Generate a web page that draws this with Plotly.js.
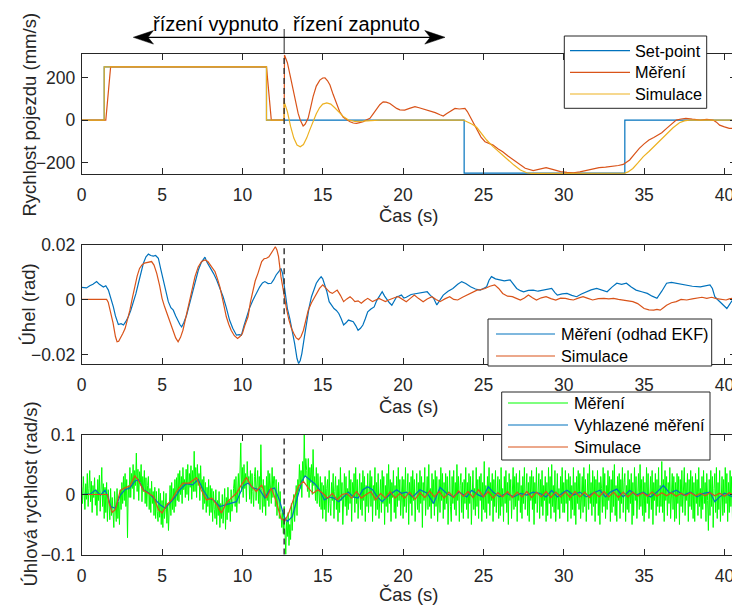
<!DOCTYPE html>
<html><head><meta charset="utf-8">
<script src="https://cdn.plot.ly/plotly-3.0.1.min.js"></script>
<style>html,body{margin:0;padding:0;overflow:hidden;background:#fff}#chart{width:740px;height:605px}</style>
</head><body><div id="chart"></div>
<script>
// ---------------- DATA ----------------
// Panel 1: Rychlost pojezdu (mm/s)  -- [time s, value]
const velSetpoint = [[0,0],[1.4,0],[1.4,250],[11.5,250],[11.5,0],[23.8,0],[23.8,-250],[33.8,-250],[33.8,0],[41,0]];
const velMeasured = [[0,0],[1.5,0],[1.8,250],[11.5,250],[11.8,0],[12.6,0],[12.62,306],[12.8,270],[13.0,200],[13.15,141],[13.3,85],[13.47,31],[13.6,0],[13.78,-28],[13.9,-20],[14.09,8],[14.25,60],[14.4,110],[14.6,160],[14.82,188],[15.0,198],[15.14,199],[15.3,185],[15.45,165],[15.65,120],[15.86,78],[16.05,40],[16.28,13],[16.5,0],[16.7,-8],[16.9,-14],[17.1,-16],[17.3,-12],[17.52,-8],[17.7,0],[17.94,8],[18.15,30],[18.36,55],[18.55,72],[18.76,86],[18.95,84],[19.18,78],[19.4,65],[19.6,55],[19.8,48],[20.1,47],[20.4,55],[20.74,63],[21.0,58],[21.3,52],[21.67,42],[22.0,35],[22.3,25],[22.5,19],[22.7,30],[22.9,40],[23.23,55],[23.5,52],[23.85,55],[24.0,40],[24.17,16],[24.35,-15],[24.58,-47],[24.85,-80],[25.1,-102],[25.35,-110],[25.6,-118],[25.9,-135],[26.2,-149],[26.55,-170],[26.9,-188],[27.2,-205],[27.6,-227],[28.1,-238],[28.5,-232],[28.9,-224],[29.3,-232],[29.8,-243],[30.2,-246],[30.6,-248],[31.0,-244],[31.4,-238],[31.8,-230],[32.2,-224],[32.6,-222],[33.1,-219],[33.4,-214],[33.7,-209],[34.1,-188],[34.4,-160],[34.7,-133],[35.0,-112],[35.3,-94],[35.6,-82],[35.9,-71],[36.1,-60],[36.4,-39],[36.7,-18],[37.0,0],[37.3,5],[37.6,8],[38.0,4],[38.5,0],[38.9,3],[39.3,0],[39.5,-10],[39.7,-24],[40.0,-32],[40.3,-39],[40.6,-40],[41,-42]];
const velSimulated = [[0,0],[1.4,0],[1.4,250],[11.5,250],[11.5,0],[12.6,0],[12.6,86],[12.8,40],[13.0,-30],[13.2,-85],[13.4,-118],[13.6,-126],[13.8,-115],[14.0,-85],[14.2,-45],[14.4,-5],[14.6,30],[14.8,58],[15.0,75],[15.25,81],[15.5,75],[15.75,58],[16.0,38],[16.3,15],[16.6,0],[17.0,-6],[17.5,-5],[18.0,-1],[18.5,0],[23.75,0],[24.0,-8],[24.3,-20],[24.58,-34],[24.9,-65],[25.2,-94],[25.6,-125],[26.07,-157],[26.5,-187],[26.9,-212],[27.3,-235],[27.7,-248],[28.0,-251],[33.8,-250],[34.0,-244],[34.3,-228],[34.6,-203],[34.95,-172],[35.3,-148],[35.6,-125],[36.0,-93],[36.4,-63],[36.8,-36],[37.2,-13],[37.5,-4],[37.8,0],[41,0]];

// Panel 2: Úhel (rad)
const angMeasured = [[0,0.0044],[0.3,0.0042],[0.5,0.005],[0.7,0.0055],[0.93,0.0065],[1.1,0.0055],[1.35,0.0045],[1.5,0.005],[1.66,0.0034],[1.8,0.001],[1.97,-0.0027],[2.1,-0.006],[2.28,-0.0091],[2.45,-0.0088],[2.6,-0.0093],[2.75,-0.008],[2.9,-0.0063],[3.05,-0.004],[3.21,-0.0014],[3.37,0.002],[3.53,0.0059],[3.7,0.01],[3.84,0.0132],[4.0,0.0155],[4.15,0.0165],[4.3,0.016],[4.46,0.0158],[4.6,0.016],[4.77,0.015],[4.92,0.011],[5.08,0.0071],[5.24,0.003],[5.39,-0.0008],[5.55,-0.003],[5.7,-0.0039],[5.85,-0.006],[6.0,-0.0081],[6.12,-0.0092],[6.22,-0.01],[6.35,-0.0085],[6.53,-0.0057],[6.7,-0.002],[6.84,0.001],[7.05,0.006],[7.26,0.0107],[7.45,0.0135],[7.67,0.0154],[7.8,0.0135],[7.98,0.0119],[8.2,0.0095],[8.4,0.0071],[8.6,0.004],[8.8,0.001],[9.0,-0.003],[9.2,-0.0075],[9.4,-0.0105],[9.63,-0.013],[9.8,-0.0128],[9.94,-0.013],[10.1,-0.0095],[10.25,-0.0063],[10.45,-0.003],[10.66,-0.0002],[10.87,0.0025],[11.08,0.0046],[11.25,0.006],[11.4,0.0065],[11.6,0.0058],[11.8,0.0059],[11.95,0.0072],[12.1,0.0089],[12.25,0.01],[12.4,0.0113],[12.5,0.0095],[12.6,0.0046],[12.7,0.0005],[12.8,-0.0033],[12.95,-0.007],[13.1,-0.0112],[13.25,-0.016],[13.4,-0.0215],[13.5,-0.0233],[13.6,-0.0222],[13.7,-0.0197],[13.85,-0.014],[14.0,-0.0075],[14.15,-0.003],[14.3,0.001],[14.45,0.0035],[14.6,0.0059],[14.75,0.0072],[14.9,0.0083],[15.0,0.0075],[15.1,0.0059],[15.25,0.003],[15.4,-0.0008],[15.55,-0.002],[15.7,-0.0033],[15.85,-0.004],[16.0,-0.0051],[16.15,-0.007],[16.3,-0.0093],[16.45,-0.0085],[16.6,-0.0075],[16.75,-0.0078],[16.9,-0.0081],[17.05,-0.0095],[17.2,-0.0112],[17.35,-0.0105],[17.5,-0.0093],[17.65,-0.007],[17.8,-0.0045],[18.0,-0.0035],[18.2,-0.0027],[18.35,-0.0005],[18.5,0.001],[18.7,0.0028],[18.85,0.0012],[19.0,-0.0002],[19.15,-0.0012],[19.3,-0.0021],[19.45,-0.0005],[19.6,0.001],[19.75,0.0012],[19.9,0.0016],[20.05,0.0005],[20.2,0.0008],[20.5,0.0018],[20.85,0.0022],[21.2,0.0025],[21.5,0.0028],[21.7,0.0015],[21.9,0.0004],[22.1,-0.002],[22.3,0.0],[22.5,0.0016],[22.8,0.003],[23.1,0.004],[23.4,0.0055],[23.65,0.0065],[23.9,0.0058],[24.2,0.0046],[24.5,0.0038],[24.8,0.0034],[25.0,0.004],[25.2,0.0046],[25.35,0.007],[25.5,0.0083],[25.75,0.0075],[26.0,0.0071],[26.3,0.0068],[26.66,0.0071],[26.85,0.0055],[27.07,0.004],[27.3,0.0032],[27.5,0.0028],[27.8,0.0033],[28.1,0.0034],[28.4,0.003],[28.7,0.0034],[29.0,0.0036],[29.25,0.004],[29.45,0.0025],[29.6,0.0016],[29.9,0.002],[30.2,0.0022],[30.5,0.0015],[30.8,0.001],[31.1,0.002],[31.4,0.0028],[31.7,0.0035],[32.05,0.004],[32.4,0.0032],[32.7,0.0028],[33.0,0.0045],[33.3,0.0059],[33.6,0.0055],[33.9,0.0059],[34.2,0.0045],[34.5,0.0034],[34.85,0.0028],[35.2,0.0022],[35.5,0.0012],[35.8,0.0004],[36.1,0.003],[36.4,0.0059],[36.7,0.0062],[37.0,0.0059],[37.3,0.0055],[37.65,0.0053],[38.0,0.0048],[38.5,0.0046],[38.8,0.005],[39.1,0.0053],[39.25,0.004],[39.4,0.001],[39.6,-0.0002],[39.8,-0.0014],[40.0,-0.0025],[40.15,-0.0033],[40.3,-0.002],[40.5,-0.0002],[41,0.0]];
const angSimulated = [[0,0],[1.55,0],[1.65,-0.001],[1.8,-0.0045],[1.95,-0.0085],[2.1,-0.0135],[2.2,-0.0154],[2.3,-0.0152],[2.4,-0.0142],[2.55,-0.0125],[2.7,-0.0106],[2.85,-0.0075],[3.0,-0.0039],[3.15,0.0005],[3.3,0.0046],[3.45,0.0085],[3.6,0.0113],[3.75,0.0126],[3.9,0.0132],[4.1,0.0135],[4.35,0.0138],[4.5,0.0125],[4.67,0.0095],[4.85,0.005],[5.0,0.0004],[5.15,-0.0025],[5.3,-0.0051],[5.5,-0.0085],[5.7,-0.0112],[5.85,-0.014],[6.0,-0.0154],[6.15,-0.0138],[6.3,-0.0112],[6.45,-0.007],[6.63,-0.0027],[6.85,0.003],[7.05,0.0083],[7.25,0.0118],[7.46,0.0138],[7.67,0.0144],[7.85,0.0138],[7.98,0.0128],[8.15,0.0115],[8.3,0.0101],[8.45,0.0075],[8.6,0.0046],[8.8,-0.0008],[9.0,-0.0063],[9.15,-0.009],[9.3,-0.0112],[9.5,-0.0132],[9.7,-0.0142],[9.85,-0.0135],[10.0,-0.0124],[10.15,-0.0095],[10.35,-0.0063],[10.5,-0.001],[10.66,0.0034],[10.8,0.0068],[10.97,0.0095],[11.1,0.012],[11.2,0.0138],[11.35,0.0148],[11.5,0.015],[11.65,0.0155],[11.8,0.0168],[11.95,0.0185],[12.05,0.0192],[12.15,0.018],[12.25,0.0156],[12.4,0.0083],[12.5,0.0045],[12.6,0.001],[12.75,-0.0035],[12.9,-0.0075],[13.05,-0.0105],[13.2,-0.0124],[13.35,-0.014],[13.5,-0.0146],[13.65,-0.0135],[13.8,-0.0112],[13.95,-0.0078],[14.1,-0.0039],[14.3,-0.0012],[14.5,0.001],[14.65,0.0028],[14.8,0.004],[15.0,0.0053],[15.15,0.0045],[15.3,0.0034],[15.45,0.0026],[15.6,0.0022],[15.75,0.0028],[15.9,0.0034],[16.1,0.0015],[16.3,-0.0008],[16.5,0.0002],[16.7,0.001],[16.85,0.0002],[17.0,-0.0008],[17.2,-0.0005],[17.4,-0.0014],[17.6,-0.0004],[17.8,0.0004],[17.95,-0.0002],[18.1,-0.0008],[18.3,-0.0002],[18.5,0.0004],[18.7,-0.0002],[18.9,-0.0008],[19.1,-0.0002],[19.3,0.0004],[19.5,0.0007],[19.7,0.001],[19.95,0.0],[20.2,-0.0008],[20.45,0.0004],[20.7,0.0016],[20.95,0.0004],[21.25,-0.0008],[21.5,0.0002],[21.8,0.001],[22.05,0.0],[22.3,-0.0008],[22.6,0.0002],[22.9,0.001],[23.15,0.0],[23.4,-0.0002],[23.7,0.0008],[23.96,0.0016],[24.3,0.0025],[24.6,0.0034],[24.85,0.0036],[25.1,0.004],[25.4,0.0048],[25.7,0.0053],[25.95,0.004],[26.2,0.0022],[26.5,0.0012],[26.8,0.001],[27.05,0.0004],[27.3,-0.0002],[27.55,0.0005],[27.8,0.0016],[28.05,0.0006],[28.3,-0.0002],[28.6,0.0006],[28.9,0.001],[29.2,0.0003],[29.5,-0.0002],[29.8,0.0005],[30.1,0.0004],[30.35,0.0],[30.6,-0.0002],[30.9,0.0005],[31.2,0.001],[31.5,0.0004],[31.8,-0.0002],[32.15,0.0003],[32.5,0.0004],[32.8,0.0002],[33.1,0.0004],[33.4,0.0],[33.7,-0.0002],[34.0,-0.0005],[34.3,-0.0008],[34.6,-0.0015],[35.0,-0.0033],[35.3,-0.0038],[35.6,-0.0039],[35.8,-0.0036],[36.0,-0.0039],[36.2,-0.003],[36.4,-0.0021],[36.7,-0.0012],[37.0,-0.0008],[37.3,0.0],[37.65,-0.0002],[38.0,0.0002],[38.3,0.0004],[38.6,0.0008],[38.9,0.0004],[39.2,0.0008],[39.5,0.0003],[39.8,0.0],[40.1,-0.0002],[40.3,0.0002],[40.5,0.0004],[41,0.0002]];

// Panel 3: Úhlová rychlost (rad/s)
const angVelStep = 0.05; // sampling step of the raw measurement (s), one row = 1 s
const angVelMeasured = [
0.012,-0.015,0.030,0.002,-0.025,0.018,-0.008,0.035,-0.020,0.010,0.040,-0.012,0.022,-0.030,0.015,-0.005,0.028,-0.018,0.008,-0.035,
0.025,-0.010,0.032,-0.028,0.005,0.045,-0.020,0.018,-0.040,0.012,-0.030,0.020,-0.045,0.008,-0.015,-0.042,0.010,-0.035,-0.005,-0.048,
-0.055,0.005,-0.030,-0.045,0.010,-0.040,-0.012,-0.050,0.008,-0.025,0.020,-0.015,0.030,-0.010,0.035,-0.020,0.025,-0.072,0.015,-0.005,
0.045,-0.005,0.035,0.010,0.050,-0.008,0.040,0.015,0.069,0.005,0.042,-0.010,0.038,0.020,0.050,-0.012,0.030,0.005,0.040,-0.015,
0.028,-0.020,0.015,0.030,-0.025,0.010,-0.030,0.022,-0.015,0.005,-0.035,0.012,-0.040,0.005,-0.028,-0.045,0.010,-0.038,0.002,-0.050,
-0.010,-0.055,0.005,-0.040,-0.025,0.002,-0.048,-0.015,-0.060,-0.005,0.015,-0.035,0.020,-0.025,0.010,-0.030,0.025,-0.020,0.028,-0.010,
0.035,-0.012,0.040,0.000,0.030,-0.015,0.045,0.008,0.025,-0.005,0.042,0.000,0.050,-0.010,0.035,0.012,0.048,-0.008,0.040,0.005,
0.072,0.005,0.045,-0.005,0.050,0.015,0.035,-0.010,0.048,0.010,0.025,-0.025,0.030,-0.015,0.020,-0.030,0.012,-0.020,0.025,-0.035,
0.015,-0.030,0.010,-0.045,0.005,-0.025,-0.040,0.008,-0.050,-0.010,-0.035,0.005,-0.055,-0.015,-0.040,0.000,-0.048,-0.020,0.010,-0.058,
-0.005,-0.042,0.012,-0.030,-0.010,-0.045,0.008,-0.028,-0.015,0.010,0.025,-0.020,0.030,-0.030,0.015,0.035,-0.015,0.040,0.086,0.005,
0.045,-0.005,0.050,0.010,0.035,-0.012,0.055,0.020,0.030,-0.008,0.040,-0.015,0.035,0.005,-0.020,0.030,0.045,-0.010,0.025,0.040,
-0.015,0.030,-0.025,0.083,0.010,-0.030,0.025,-0.020,0.015,-0.035,0.030,-0.010,0.040,-0.020,0.035,0.005,-0.015,0.045,-0.005,0.030,
0.030,-0.020,0.025,-0.035,0.010,0.020,-0.040,0.005,-0.030,-0.055,-0.030,-0.065,-0.020,-0.080,-0.100,-0.045,-0.070,-0.030,-0.085,-0.050,
-0.075,-0.015,-0.060,-0.030,0.000,-0.045,-0.010,0.015,-0.035,0.025,0.005,0.050,0.010,0.040,-0.005,0.055,0.020,0.100,0.030,0.060,
0.040,0.005,0.060,-0.005,0.045,0.020,0.050,0.000,0.075,0.015,0.030,-0.010,0.045,-0.015,0.035,0.005,-0.020,0.030,-0.025,0.020,
-0.040,0.015,-0.025,0.030,-0.045,0.010,0.025,-0.030,0.040,-0.015,-0.035,0.020,-0.010,0.035,-0.040,0.005,0.030,-0.025,0.015,-0.045,
0.025,-0.030,0.045,-0.010,0.020,-0.050,0.015,0.035,-0.020,0.030,-0.035,0.010,-0.025,0.040,-0.015,0.025,-0.045,0.020,-0.005,0.035,
-0.030,0.045,-0.015,0.025,-0.040,0.010,0.035,-0.025,0.020,-0.035,0.040,-0.010,0.030,-0.045,0.015,-0.020,0.035,-0.030,0.010,0.040,
-0.020,0.030,-0.045,0.015,-0.010,0.045,-0.035,0.020,-0.025,0.035,-0.040,0.010,0.025,-0.030,0.040,-0.015,0.030,-0.050,0.015,-0.020,
0.035,-0.030,0.050,-0.015,0.025,-0.045,0.020,-0.005,0.040,-0.030,0.015,-0.040,0.030,-0.020,0.045,-0.010,0.025,-0.035,0.010,0.030,
-0.040,0.025,-0.020,0.045,-0.030,0.010,0.035,-0.050,0.020,-0.015,0.030,-0.035,0.040,-0.010,0.025,-0.045,0.015,0.035,-0.025,0.020,
-0.030,0.040,-0.015,0.030,-0.055,0.020,-0.010,0.045,-0.035,0.015,0.030,-0.025,0.050,-0.020,0.010,-0.040,0.035,-0.015,0.025,-0.035,
0.040,-0.020,0.030,-0.045,0.015,0.025,-0.030,0.045,-0.010,0.035,-0.040,0.020,-0.025,0.035,-0.015,0.030,-0.050,0.010,0.040,-0.020,
-0.045,0.030,-0.015,0.040,-0.025,0.020,-0.035,0.050,-0.010,0.030,-0.045,0.015,0.035,-0.030,0.020,-0.040,0.025,-0.015,0.045,-0.025,
0.020,-0.040,0.035,-0.015,0.030,-0.050,0.015,0.040,-0.025,0.010,-0.035,0.045,-0.020,0.025,-0.040,0.030,-0.010,0.035,-0.045,0.020,
-0.025,0.055,-0.030,0.015,-0.040,0.030,-0.015,0.045,-0.035,0.020,-0.010,0.035,-0.045,0.025,-0.020,0.040,-0.030,0.015,0.030,-0.040,
0.025,-0.035,0.045,-0.020,0.010,-0.045,0.030,-0.015,0.040,-0.030,0.020,-0.050,0.035,-0.010,0.025,-0.040,0.015,0.045,-0.025,0.030,
-0.020,0.035,-0.045,0.020,-0.010,0.040,-0.030,0.015,-0.040,0.030,-0.015,0.045,-0.025,0.010,0.035,-0.035,0.020,-0.045,0.030,-0.010,
0.040,-0.025,0.030,-0.050,0.020,-0.015,0.045,-0.030,0.010,0.035,-0.040,0.025,-0.020,0.040,-0.035,0.015,-0.010,0.030,-0.045,0.020,
-0.035,0.045,-0.015,0.030,-0.040,0.050,-0.020,0.015,-0.030,0.040,-0.045,0.020,0.035,-0.025,0.010,-0.040,0.030,-0.015,0.045,-0.030,
0.020,-0.030,0.040,-0.015,0.025,-0.045,0.035,-0.010,0.030,-0.040,0.015,-0.025,0.045,-0.035,0.020,-0.050,0.030,-0.015,0.040,-0.025,
0.035,-0.040,0.015,0.030,-0.030,0.045,-0.020,0.025,-0.045,0.010,0.035,-0.025,0.050,-0.015,0.020,-0.035,0.040,-0.020,0.030,-0.045,
0.025,-0.015,0.040,-0.035,0.020,-0.050,0.030,0.010,-0.030,0.045,-0.020,0.035,-0.040,0.015,-0.025,0.040,-0.010,0.030,-0.045,0.025,
-0.030,0.040,-0.020,0.050,-0.035,0.015,-0.045,0.030,-0.010,0.035,-0.040,0.025,-0.015,0.045,-0.030,0.020,0.035,-0.045,0.015,-0.025,
0.040,-0.030,0.025,-0.015,0.035,-0.050,0.020,-0.035,0.045,-0.010,0.030,-0.040,0.015,0.035,-0.025,0.050,-0.020,0.025,-0.035,0.030,
-0.045,0.020,-0.030,0.045,-0.015,0.035,-0.040,0.010,0.030,-0.025,0.040,-0.050,0.020,-0.010,0.035,-0.035,0.025,-0.020,0.045,-0.030,
0.015,-0.020,0.055,-0.030,0.025,-0.045,0.040,-0.010,0.030,-0.035,0.020,-0.015,0.045,-0.040,0.010,0.035,-0.025,0.030,-0.045,0.020,
-0.040,0.035,-0.015,0.030,-0.050,0.025,-0.020,0.040,-0.030,0.015,0.045,-0.035,0.020,-0.010,0.035,-0.045,0.025,-0.020,0.040,-0.025,
0.030,-0.040,0.020,-0.045,0.035,-0.015,0.025,-0.035,0.045,-0.020,0.010,-0.040,0.030,-0.025,0.040,-0.015,0.020,-0.045,0.035,-0.010,
-0.060,0.025,-0.035,0.040,-0.020,0.030,-0.055,0.010,0.035,-0.030,0.045,-0.040,0.020,-0.025,0.040,-0.045,0.015,0.030,-0.035,0.025,
-0.030,0.045,-0.015,0.035,-0.045,0.020,-0.030,0.040,-0.020,0.030,-0.040,0.025,-0.010,0.035,-0.035,0.020,-0.025,0.040,-0.030,0.015
];
const angVelSmoothed = [[0,0.0],[0.55,0.001],[0.85,0.0075],[1.17,-0.001],[1.45,0.0075],[1.65,-0.005],[1.8,-0.02],[2.1,-0.023],[2.4,-0.001],[2.7,0.008],[3.0,0.011],[3.3,0.022],[3.53,0.025],[3.84,0.008],[4.15,0.003],[4.46,-0.006],[4.88,-0.017],[5.2,-0.023],[5.5,-0.014],[5.8,-0.005],[6.1,0.0075],[6.5,0.018],[6.9,0.016],[7.25,0.025],[7.56,0.008],[7.87,-0.006],[8.2,-0.009],[8.6,-0.02],[9.0,-0.017],[9.3,-0.014],[9.63,-0.012],[10.05,0.014],[10.35,0.019],[10.66,0.011],[11.08,0.008],[11.4,-0.006],[11.7,0.008],[12.0,0.011],[12.3,-0.009],[12.6,-0.037],[12.8,-0.045],[13.1,-0.037],[13.4,-0.009],[13.7,0.022],[13.9,0.031],[14.2,0.025],[14.5,0.018],[14.8,0.008],[15.1,-0.009],[15.4,-0.004],[15.7,-0.006],[16.0,-0.012],[16.3,-0.004],[16.6,0.004],[16.9,-0.004],[17.2,-0.006],[17.5,0.008],[17.8,0.013],[18.1,0.008],[18.4,-0.004],[18.7,-0.012],[19.0,-0.004],[19.3,0.002],[19.6,0.008],[19.9,0.002],[20.2,0.004],[20.6,-0.004],[21.05,0.008],[21.5,0.002],[21.9,-0.015],[22.3,0.012],[22.7,0.002],[23.1,-0.004],[23.5,0.004],[23.96,-0.004],[24.27,0.007],[24.7,-0.001],[25.0,-0.004],[25.3,0.013],[25.6,0.004],[26.0,-0.004],[26.4,0.002],[26.9,-0.004],[27.3,0.002],[27.7,-0.001],[28.1,0.004],[28.5,0.002],[28.9,-0.004],[29.25,0.007],[29.6,-0.004],[29.9,0.002],[30.2,0.007],[30.6,-0.001],[31.0,0.004],[31.4,-0.004],[31.8,0.002],[32.25,0.007],[32.6,-0.004],[32.9,0.004],[33.3,0.009],[33.7,-0.004],[34.1,0.007],[34.5,-0.001],[34.95,0.004],[35.4,-0.004],[35.8,0.004],[36.2,0.015],[36.6,0.002],[37.0,0.007],[37.45,-0.001],[37.9,0.004],[38.3,-0.004],[38.7,0.002],[39.1,0.004],[39.4,-0.012],[39.7,-0.004],[40.0,0.002],[40.5,-0.004],[41,0.0]];
const angVelSimulated = [[0,0],[1.6,0],[1.7,-0.014],[1.9,-0.03],[2.1,-0.025],[2.4,0.007],[2.7,0.011],[3.0,0.014],[3.3,0.031],[3.5,0.025],[3.84,0.007],[4.15,0.002],[4.46,-0.003],[4.77,-0.025],[5.0,-0.031],[5.3,-0.017],[5.6,-0.009],[5.9,0.005],[6.3,0.019],[6.7,0.019],[7.15,0.028],[7.45,0.007],[7.77,-0.009],[8.1,-0.006],[8.4,-0.017],[8.7,-0.031],[9.0,-0.014],[9.3,-0.006],[9.63,0.002],[9.94,0.016],[10.25,0.028],[10.55,0.014],[10.87,0.005],[11.2,0.016],[11.5,-0.006],[11.8,0.011],[12.1,-0.011],[12.4,-0.04],[12.65,-0.044],[12.9,-0.03],[13.2,-0.006],[13.5,0.014],[13.8,0.022],[14.1,0.011],[14.4,0.002],[14.7,0.008],[15.0,0.002],[15.3,-0.006],[15.6,0.002],[15.9,-0.009],[16.2,0.0],[16.5,0.002],[16.8,-0.006],[17.1,0.005],[17.4,-0.006],[17.7,0.0],[18.0,0.005],[18.3,-0.009],[18.6,0.002],[18.9,-0.006],[19.2,0.005],[19.5,-0.006],[19.8,0.002],[20.1,-0.006],[20.4,0.004],[20.75,-0.008],[21.05,0.003],[21.35,-0.005],[21.65,0.006],[21.95,-0.004],[22.25,0.005],[22.55,-0.006],[22.85,0.004],[23.15,-0.005],[23.45,0.006],[23.75,-0.003],[24.05,0.005],[24.35,-0.005],[24.7,0.008],[25.0,-0.004],[25.3,0.005],[25.6,-0.006],[25.9,0.003],[26.2,-0.004],[26.5,0.005],[26.8,-0.005],[27.1,0.004],[27.4,-0.004],[27.7,0.005],[28.0,-0.005],[28.3,0.004],[28.6,-0.004],[28.9,0.005],[29.2,-0.005],[29.5,0.004],[29.8,-0.004],[30.1,0.004],[30.4,-0.005],[30.7,0.005],[31.0,-0.004],[31.3,0.004],[31.6,-0.005],[31.9,0.004],[32.2,-0.004],[32.5,0.005],[32.8,-0.004],[33.1,0.004],[33.4,-0.005],[33.7,0.004],[34.0,-0.004],[34.3,0.004],[34.6,-0.003],[34.9,0.003],[35.2,-0.003],[35.5,0.004],[35.8,-0.003],[36.1,0.003],[36.4,-0.002],[36.7,0.003],[37.0,-0.003],[37.3,0.002],[37.6,-0.002],[37.9,0.003],[38.2,-0.002],[38.5,0.002],[38.8,-0.002],[39.1,0.003],[39.4,-0.002],[39.7,0.002],[40.0,-0.003],[40.3,0.003],[40.6,-0.002],[41,0.0]];

const controlSwitchTime = 12.6;           // s, dashed line
const xTicks = [0,5,10,15,20,25,30,35,40];
const velTicks = [-200,0,200];
const angTicks = [-0.02,0,0.02];
const angVelTicks = [-0.1,0,0.1];
const labelsTop = ['Set-point','Měření','Simulace'];
const labelsMid = ['Měření (odhad EKF)','Simulace'];
const labelsBot = ['Měření','Vyhlazené měření','Simulace'];
const yTitles = ['Rychlost pojezdu (mm/s)','Úhel (rad)','Úhlová rychlost (rad/s)'];
const xTitle = 'Čas (s)';

// ---------------- STYLE ----------------
const W = 740, H = 605;
const FONT = 'Liberation Sans, Arial, Helvetica, sans-serif';
const TXT = '#262626';
const C_BLUE = '#0072BD', C_ORANGE = '#D95319', C_YELLOW = '#EDB120', C_GREEN = '#00FF00';
const px = v => v / W;
const py = v => 1 - v / H;

const xs = a => a.map(p => p[0]);
const ys = a => a.map(p => p[1]);
const gT = angVelMeasured.map((_, i) => +(i * angVelStep).toFixed(3));

function line(xa, ya, color, w, name, n) {
  return {type:'scatter', mode:'lines', x:xa, y:ya, name:name,
          xaxis: n===1?'x':'x'+n, yaxis: n===1?'y':'y'+n,
          line:{color:color, width:w}, hoverinfo:'skip', showlegend:false};
}

const traces = [
  line(xs(velSetpoint), ys(velSetpoint), C_BLUE, 1.2, labelsTop[0], 1),
  line(xs(velMeasured), ys(velMeasured), C_ORANGE, 1.2, labelsTop[1], 1),
  line(xs(velSimulated), ys(velSimulated), C_YELLOW, 1.2, labelsTop[2], 1),
  line(xs(angMeasured), ys(angMeasured), C_BLUE, 1.2, labelsMid[0], 2),
  line(xs(angSimulated), ys(angSimulated), C_ORANGE, 1.2, labelsMid[1], 2),
  line(gT, angVelMeasured, C_GREEN, 1, labelsBot[0], 3),
  line(xs(angVelSmoothed), ys(angVelSmoothed), C_BLUE, 1.2, labelsBot[1], 3),
  line(xs(angVelSimulated), ys(angVelSimulated), C_ORANGE, 1.2, labelsBot[2], 3)
];

const xDom = [px(81.7), px(735.7)];
function xAx(anchor) {
  return {domain:xDom, anchor:anchor, range:[0,40.7], tickvals:xTicks,
    ticks:'inside', ticklen:6, tickcolor:TXT, tickwidth:1,
    showline:true, linecolor:TXT, linewidth:1, mirror:'ticks',
    showgrid:false, zeroline:false, ticklabelstandoff:5,
    tickfont:{family:FONT, size:17.5, color:TXT},
    title:{text:xTitle, font:{family:FONT, size:18.5, color:TXT}, standoff:5}};
}
function yAx(anchor, dom, range, tv) {
  return {domain:dom, anchor:anchor, range:range, tickvals:tv,
    ticks:'inside', ticklen:6, tickcolor:TXT, tickwidth:1,
    showline:true, linecolor:TXT, linewidth:1, mirror:'ticks',
    showgrid:false, zeroline:false, ticklabelstandoff:2,
    tickfont:{family:FONT, size:17.5, color:TXT}};
}

const shapes = [];
const annotations = [];
// y-axis titles
[[28.5,115],[27.5,305],[30,494.5]].forEach((p, i) => {
  annotations.push({xref:'paper', yref:'paper', x:px(p[0]), y:py(p[1]), xanchor:'center', yanchor:'middle',
    textangle:-90, text:yTitles[i], showarrow:false, font:{family:FONT, size:18.5, color:TXT}});
});
// dashed switch line in each panel
['y','y2','y3'].forEach((yr, i) => {
  shapes.push({type:'line', xref: i===0?'x':'x'+(i+1), yref: yr+' domain',
    x0:controlSwitchTime, x1:controlSwitchTime, y0:0, y1:1,
    line:{color:'#3a3a3a', width:1.5, dash:'6px,4px'}});
});
// solid marker line above top axes
shapes.push({type:'line', xref:'x', yref:'paper', x0:controlSwitchTime, x1:controlSwitchTime,
  y0:py(54), y1:py(29), line:{color:'#262626', width:1}});
// arrows
const ay = 37.3;
shapes.push({type:'line', xref:'paper', yref:'paper', x0:px(146), x1:px(432), y0:py(ay), y1:py(ay), line:{color:'#000', width:1.3}});
shapes.push({type:'path', xref:'paper', yref:'paper', fillcolor:'#000', line:{color:'#000', width:0.5},
  path:`M${px(133.3)},${py(ay)} L${px(153.5)},${py(ay-6.8)} L${px(148)},${py(ay)} L${px(153.5)},${py(ay+6.8)} Z`});
shapes.push({type:'path', xref:'paper', yref:'paper', fillcolor:'#000', line:{color:'#000', width:0.5},
  path:`M${px(445)},${py(ay)} L${px(424.8)},${py(ay-6.8)} L${px(430.3)},${py(ay)} L${px(424.8)},${py(ay+6.8)} Z`});
annotations.push({xref:'paper', yref:'paper', x:px(280.5), y:py(24), xanchor:'right', yanchor:'middle',
  text:'řízení vypnuto', showarrow:false, font:{family:FONT, size:20, color:'#000'}});
annotations.push({xref:'paper', yref:'paper', x:px(290.5), y:py(24), xanchor:'left', yanchor:'middle',
  text:'řízení zapnuto', showarrow:false, font:{family:FONT, size:20, color:'#000'}});

// manual legends
function legend(box, rows, sx0, sx1, tx, labels, colors) {
  shapes.push({type:'rect', xref:'paper', yref:'paper', x0:px(box[0]), x1:px(box[1]), y0:py(box[3]), y1:py(box[2]),
    fillcolor:'#fff', line:{color:'#262626', width:1}});
  rows.forEach((ry, i) => {
    shapes.push({type:'line', xref:'paper', yref:'paper', x0:px(sx0), x1:px(sx1), y0:py(ry), y1:py(ry),
      line:{color:colors[i], width:1.2}});
    annotations.push({xref:'paper', yref:'paper', x:px(tx), y:py(ry), xanchor:'left', yanchor:'middle',
      text:labels[i], showarrow:false, font:{family:FONT, size:16.3, color:'#000'}});
  });
}
legend([564.3,706.7,36,108.3], [50.7,72.3,94], 570, 630, 633, labelsTop, [C_BLUE,C_ORANGE,C_YELLOW]);
legend([488,711.7,319,366], [334,356], 496, 555, 559, labelsMid, [C_BLUE,C_ORANGE]);
legend([501.7,710,392,460], [403,425,447], 508, 568, 572, labelsBot, [C_GREEN,C_BLUE,C_ORANGE]);

const layout = {
  width:W, height:H, margin:{l:0,r:0,t:0,b:0},
  paper_bgcolor:'#fff', plot_bgcolor:'#fff', showlegend:false,
  font:{family:FONT, color:TXT},
  xaxis: xAx('y'), xaxis2: xAx('y2'), xaxis3: xAx('y3'),
  yaxis: yAx('x', [py(174), py(54)], [-254,311], velTicks),
  yaxis2: yAx('x2', [py(364.3), py(244.5)], [-0.0236,0.02], angTicks),
  yaxis3: yAx('x3', [py(554.5), py(434.5)], [-0.1,0.1], angVelTicks),
  shapes:shapes, annotations:annotations
};
Plotly.newPlot('chart', traces, layout, {displayModeBar:false, staticPlot:true});
</script></body></html>
